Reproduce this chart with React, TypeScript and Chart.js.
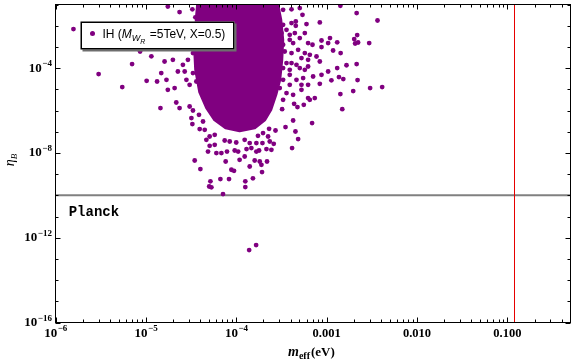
import React, { useEffect, useRef } from "react";
import { Chart, registerables } from "chart.js";
Chart.register(...registerables);

const PURPLE = "rgb(128,0,128)";

// axis ranges
const xMin = 1e-6;
const xMax = 0.5;
const yMin = 1e-16;
const yMax = 0.1;

// reference lines
const planckEta = 1e-10;
const meffBound = 0.12;
const planckLabelAt = [1.4e-6, 1.1e-11];

// tick labels
const xTickValues = [1e-6, 1e-5, 1e-4, 1e-3, 1e-2, 1e-1];
const xTickLabels = ["10^-6", "10^-5", "10^-4", "0.001", "0.010", "0.100"];
const yTickValues = [1e-16, 1e-12, 1e-8, 1e-4];
const yTickLabels = ["10^-16", "10^-12", "10^-8", "10^-4"];
const minorMultipliers = [2, 3, 4, 5, 6, 7, 8, 9];

// dense core of the scatter (outline of the solid region)
const coreMeff = [3.74e-5, 2.88e-4, 3.11e-4, 3.27e-4, 3.19e-4, 3.03e-4, 2.74e-4, 2.41e-4, 2.07e-4, 1.6e-4, 1.09e-4, 7.64e-5, 5.78e-5, 4.71e-5, 3.94e-5, 3.56e-5, 3.47e-5, 3.56e-5, 3.65e-5];
const coreEta = [0.1, 0.1, 1.9e-2, 2.16e-3, 2.47e-4, 2.8e-5, 5.5e-6, 1.08e-6, 3.64e-7, 1.53e-7, 1.1e-7, 1.53e-7, 3.64e-7, 1.34e-6, 7.62e-6, 8.3e-5, 7.3e-4, 6.4e-3, 3.27e-2];

// individual points outside the core
const leftWing = [
  [1.58e-6, 6.91e-3], [3.0e-6, 5.21e-5], [5.48e-6, 1.27e-5], [7.04e-6, 1.54e-4], [8.63e-6, 6.07e-4],
  [1.15e-5, 3.6e-4], [1.02e-5, 2.52e-5], [1.45e-5, 1.3e-6], [1.75e-5, 8.05e-2], [2.36e-5, 4.38e-2],
  [3.27e-5, 5.94e-2], [3.53e-5, 2.49e-2], [1.61e-5, 2.05e-4], [1.99e-5, 2.46e-4], [2.57e-5, 1.43e-4],
  [2.92e-5, 2.46e-4], [3.32e-5, 5.1e-4], [3.77e-5, 2.96e-4], [1.33e-5, 2.33e-5], [1.48e-5, 5.81e-5],
  [1.69e-5, 2.81e-5], [2.08e-5, 1.14e-5], [2.26e-5, 6.91e-5], [2.69e-5, 6.91e-5], [2.81e-5, 2.81e-5],
  [3.05e-5, 1.63e-5], [3.32e-5, 5.81e-5], [3.62e-5, 2.33e-5], [2.36e-5, 1.3e-6], [2.17e-5, 2.38e-6],
  [3.05e-5, 1.54e-6], [3.32e-5, 1.0e-6], [3.19e-5, 4.38e-7], [3.87e-5, 6.27e-7], [3.27e-5, 2.28e-7],
  [4.29e-5, 3.03e-7], [3.94e-5, 1.33e-7], [4.48e-5, 1.23e-7], [1.75e-5, 9.47e-6],
];
const lowerTail = [
  [4.67e-5, 4.15e-8], [5.08e-5, 2.16e-8], [4.87e-5, 1.16e-8], [5.78e-5, 2.41e-8], [6.03e-5, 9.79e-9],
  [6.85e-5, 9.79e-9], [7.9e-5, 1.16e-8], [7.64e-5, 3.93e-9], [3.47e-5, 4.38e-9], [4.01e-5, 1.72e-9],
  [5.18e-5, 4.57e-10], [5.02e-5, 2.6e-10], [5.31e-5, 2.38e-10], [6.68e-5, 5.81e-10], [8.32e-5, 5.81e-10],
  [8.84e-5, 1.6e-9], [9.45e-5, 1.43e-9], [7.14e-5, 1.14e-10], [1.26e-4, 4.57e-10], [1.26e-4, 2.44e-10],
  [1.53e-4, 6.34e-10], [1.41e-4, 2.28e-9], [1.09e-4, 4.73e-9], [1.24e-4, 6.76e-9], [9.62e-5, 1.3e-8],
  [1.05e-4, 1.16e-8], [1.3e-4, 1.51e-8], [1.47e-4, 1.68e-8], [1.67e-4, 1.16e-8], [1.82e-4, 3.93e-9],
  [8.47e-5, 3.45e-8], [1.0e-4, 3.1e-8], [1.24e-4, 4.15e-8], [1.41e-4, 2.9e-8], [1.67e-4, 2.9e-8],
  [1.74e-4, 6.41e-8], [5.08e-5, 5.94e-8], [5.78e-5, 7.14e-8], [7.45e-5, 3.85e-8], [1.93e-4, 1.24e-9],
  [1.39e-4, 2.6e-13], [1.66e-4, 4.48e-13],
];
const rightLow = [
  [4.37e-4, 2.07e-6], [4.76e-4, 1.45e-6], [5.59e-4, 1.86e-6], [6.52e-4, 3.2e-6], [3.22e-4, 1.16e-6],
  [1.49e-3, 1.16e-6], [4.26e-4, 3.37e-7], [6.91e-4, 2.55e-7], [3.51e-4, 1.65e-7], [4.52e-4, 1.02e-7],
  [4.84e-4, 4.48e-8], [4.15e-4, 1.68e-8], [2.72e-4, 1.14e-7], [2.6e-4, 2.69e-8], [2.45e-4, 1.4e-8],
  [2.16e-4, 1.51e-8], [1.79e-4, 1.3e-8], [1.6e-4, 4.38e-9], [2.19e-4, 3.93e-9], [1.9e-4, 2.75e-9],
  [2.31e-4, 1.37e-7], [1.98e-4, 8.59e-8], [2.25e-4, 5.94e-8], [1.95e-4, 2.9e-8], [2.35e-4, 3.45e-8],
];
const rightWing = [
  [3.3e-4, 5.62e-2], [4.09e-4, 5.94e-2], [5.05e-4, 6.76e-2], [5.41e-4, 3.27e-2], [1.42e-3, 8.69e-2],
  [3.3e-4, 1.1e-2], [3.6e-4, 6.41e-3], [4.09e-4, 1.33e-2], [4.56e-4, 1.58e-2], [4.56e-4, 9.89e-3],
  [5.99e-4, 1.19e-2], [8.41e-4, 1.42e-2], [3.17e-4, 4.48e-3], [3.91e-4, 3.73e-3], [4.45e-4, 4.48e-3],
  [5.05e-4, 2.6e-3], [5.74e-4, 4.48e-3], [6.24e-4, 1.51e-3], [6.98e-4, 1.26e-3], [8.78e-4, 2.0e-3],
  [1.09e-3, 2.6e-3], [1.31e-3, 1.65e-3], [8.78e-4, 9.79e-4], [1.04e-3, 1.51e-3], [1.18e-3, 6.76e-4],
  [1.43e-3, 5.1e-4], [3.3e-4, 1.26e-3], [3.91e-4, 2.16e-3], [4.26e-4, 1.51e-3], [3.44e-4, 6.07e-4],
  [4.09e-4, 5.1e-4], [4.84e-4, 7.29e-4], [5.74e-4, 5.1e-4], [6.52e-4, 4.24e-4], [5.27e-4, 2.96e-4],
  [6.24e-4, 2.46e-4], [7.73e-4, 3.52e-4], [8.41e-4, 2.05e-4], [3.03e-4, 2.96e-4], [3.6e-4, 1.72e-4],
  [4.09e-4, 1.72e-4], [4.64e-4, 1.43e-4], [5.05e-4, 1.0e-4], [5.74e-4, 8.31e-5], [6.24e-4, 1.19e-4],
  [3.91e-4, 8.31e-5], [3.3e-4, 1.0e-4], [1.66e-3, 1.36e-4], [1.31e-3, 1.0e-4], [1.04e-3, 6.91e-5],
  [8.78e-4, 4.83e-5], [7.09e-4, 4.02e-5], [1.13e-3, 2.66e-5], [1.37e-3, 3.76e-5], [1.53e-3, 3.03e-5],
  [2.9e-4, 5.81e-5], [3.3e-4, 2.81e-5], [3.91e-4, 4.83e-5], [4.64e-4, 2.81e-5], [5.5e-4, 3.38e-5],
  [5.27e-4, 1.63e-5], [6.24e-4, 1.63e-5], [8.41e-4, 1.82e-5], [3.91e-4, 1.63e-5], [3.03e-4, 1.14e-5],
  [3.6e-4, 6.62e-6], [4.26e-4, 5.5e-6], [5.27e-4, 9.47e-6], [6.24e-4, 3.85e-6], [7.4e-4, 3.85e-6],
  [1.42e-3, 5.94e-6], [3.3e-4, 3.2e-6],
];
const farRight = [
  [2.15e-3, 3.93e-2], [3.66e-3, 1.76e-2], [2.18e-3, 3.61e-3], [2.02e-3, 2.33e-3], [2.23e-3, 1.61e-3],
  [2.07e-3, 1.45e-3], [2.96e-3, 1.51e-3], [2.15e-3, 1.54e-4], [2.2e-3, 2.72e-5], [3.03e-3, 1.14e-5],
  [4.12e-3, 1.27e-5], [1.97e-3, 8.22e-6],
];

const SERIF = "'Liberation Serif', 'DejaVu Serif', serif";
const SANS = "'Liberation Sans', Arial, sans-serif";

function drawTickLabel(ctx: CanvasRenderingContext2D, label: string, x: number, baseline: number, align: "center" | "right") {
  ctx.textAlign = "left";
  ctx.textBaseline = "alphabetic";
  ctx.fillStyle = "#000";
  const parts = label.split("^");
  if (parts.length === 1) {
    ctx.font = `bold 12.5px ${SERIF}`;
    const w = ctx.measureText(label).width;
    ctx.fillText(label, align === "right" ? x - w : x - w / 2, baseline);
    return;
  }
  const base = parts[0];
  const exp = parts[1].replace("-", "\u2212");
  ctx.font = `bold 13px ${SERIF}`;
  const w1 = ctx.measureText(base).width;
  ctx.font = `bold 9px ${SERIF}`;
  const w2 = ctx.measureText(exp).width;
  const start = align === "right" ? x - w1 - w2 : x - (w1 + w2) / 2;
  ctx.font = `bold 13px ${SERIF}`;
  ctx.fillText(base, start, baseline);
  ctx.font = `bold 9px ${SERIF}`;
  ctx.fillText(exp, start + w1 + 0.5, baseline - 5.5);
}

const decorPlugin = {
  id: "decor",
  beforeDatasetsDraw(chart: any) {
    const { ctx, chartArea: a, scales } = chart;
    const xs = scales.x;
    const ys = scales.y;
    ctx.save();
    ctx.beginPath();
    ctx.rect(a.left, a.top, a.right - a.left, a.bottom - a.top);
    ctx.clip();
    // dense core
    ctx.beginPath();
    coreMeff.forEach((m, i) => {
      const px = xs.getPixelForValue(m);
      const py = ys.getPixelForValue(coreEta[i]);
      if (i === 0) ctx.moveTo(px, py);
      else ctx.lineTo(px, py);
    });
    ctx.closePath();
    ctx.fillStyle = PURPLE;
    ctx.fill();
    ctx.lineJoin = "round";
    ctx.lineWidth = 3;
    ctx.strokeStyle = PURPLE;
    ctx.stroke();
    // Planck line
    const py = ys.getPixelForValue(planckEta);
    ctx.strokeStyle = "rgb(128,128,128)";
    ctx.lineWidth = 2;
    ctx.beginPath();
    ctx.moveTo(a.left, py);
    ctx.lineTo(a.right, py);
    ctx.stroke();
    // bound line
    const px = Math.round(xs.getPixelForValue(meffBound)) + 0.5;
    ctx.strokeStyle = "rgb(230,0,0)";
    ctx.lineWidth = 1;
    ctx.beginPath();
    ctx.moveTo(px, a.top);
    ctx.lineTo(px, a.bottom);
    ctx.stroke();
    ctx.restore();
  },
  afterDraw(chart: any) {
    const { ctx, chartArea: a, scales } = chart;
    const xs = scales.x;
    const ys = scales.y;
    ctx.save();
    ctx.strokeStyle = "#000";
    ctx.lineWidth = 1;
    ctx.strokeRect(a.left, a.top, a.right - a.left, a.bottom - a.top);
    const seg = (x1: number, y1: number, x2: number, y2: number) => {
      ctx.beginPath();
      ctx.moveTo(x1, y1);
      ctx.lineTo(x2, y2);
      ctx.stroke();
    };
    // x ticks (bottom and top)
    xTickValues.forEach((d) => {
      const px = Math.round(xs.getPixelForValue(d)) + 0.5;
      seg(px, a.bottom, px, a.bottom - 5);
      seg(px, a.top, px, a.top + 5);
      minorMultipliers.forEach((k) => {
        const v = k * d;
        if (v >= xMax) return;
        const mx = Math.round(xs.getPixelForValue(v)) + 0.5;
        seg(mx, a.bottom, mx, a.bottom - 3);
        seg(mx, a.top, mx, a.top + 3);
      });
    });
    // y ticks (every decade, longer where labelled)
    for (let e = -16; e <= -1; e++) {
      const v = Math.pow(10, e);
      const py = Math.round(ys.getPixelForValue(v)) + 0.5;
      const len = yTickValues.some((t) => Math.abs(Math.log10(t) - e) < 1e-6) ? 5 : 3;
      seg(a.left, py, a.left + len, py);
      seg(a.right, py, a.right - len, py);
    }
    // tick labels
    xTickValues.forEach((v, i) => {
      drawTickLabel(ctx, xTickLabels[i], xs.getPixelForValue(v), a.bottom + 14, "center");
    });
    yTickValues.forEach((v, i) => {
      drawTickLabel(ctx, yTickLabels[i], a.left - 4, ys.getPixelForValue(v) + 3.5, "right");
    });
    // x title: m_eff (eV)
    ctx.fillStyle = "#000";
    ctx.textAlign = "left";
    ctx.textBaseline = "alphabetic";
    let tx = 288;
    const tb = 356;
    ctx.font = `italic bold 14px ${SERIF}`;
    ctx.fillText("m", tx, tb);
    tx += ctx.measureText("m").width;
    ctx.font = `bold 10px ${SERIF}`;
    ctx.fillText("eff", tx, tb + 3);
    tx += ctx.measureText("eff").width + 1;
    ctx.font = `bold 13px ${SERIF}`;
    ctx.fillText("(eV)", tx, tb);
    // y title: eta_B
    ctx.save();
    ctx.translate(14, 160);
    ctx.rotate(-Math.PI / 2);
    ctx.font = `italic 14px ${SERIF}`;
    const we = ctx.measureText("\u03b7").width;
    ctx.font = `italic 9px ${SERIF}`;
    const wb = ctx.measureText("B").width;
    const sx = -(we + wb) / 2;
    ctx.font = `italic 14px ${SERIF}`;
    ctx.fillText("\u03b7", sx, 0);
    ctx.font = `italic 9px ${SERIF}`;
    ctx.fillText("B", sx + we, 3);
    ctx.restore();
    // Planck text
    ctx.font = `bold 14px 'Liberation Mono', 'DejaVu Sans Mono', monospace`;
    ctx.fillStyle = "#000";
    ctx.fillText("Planck", xs.getPixelForValue(planckLabelAt[0]), ys.getPixelForValue(planckLabelAt[1]));
    // legend box
    const lx = a.left + 25;
    const ly = a.top + 17;
    const lw = 154;
    const lh = 28;
    ctx.fillStyle = "rgb(110,110,110)";
    ctx.fillRect(lx + 2, ly + 2, lw, lh);
    ctx.fillStyle = "#fff";
    ctx.fillRect(lx, ly, lw, lh);
    ctx.strokeStyle = "#000";
    ctx.lineWidth = 1.5;
    ctx.strokeRect(lx + 0.75, ly + 0.75, lw - 1.5, lh - 1.5);
    ctx.fillStyle = PURPLE;
    ctx.beginPath();
    ctx.arc(lx + 12, ly + 12, 2.5, 0, Math.PI * 2);
    ctx.fill();
    ctx.fillStyle = "#000";
    let gx = lx + 22;
    const gb = ly + 16;
    ctx.font = `12px ${SANS}`;
    ctx.fillText("IH (", gx, gb);
    gx += ctx.measureText("IH (").width;
    ctx.font = `italic 12px ${SANS}`;
    ctx.fillText("M", gx, gb);
    gx += ctx.measureText("M").width;
    ctx.font = `italic 9px ${SANS}`;
    ctx.fillText("W", gx, gb + 3);
    gx += ctx.measureText("W").width;
    ctx.font = `italic 7px ${SANS}`;
    ctx.fillText("R", gx, gb + 6);
    gx += ctx.measureText("R").width + 1;
    ctx.font = `12px ${SANS}`;
    ctx.fillText(" =5TeV, X=0.5)", gx, gb);
    ctx.restore();
  },
};

export default function App() {
  const ref = useRef<HTMLCanvasElement | null>(null);
  useEffect(() => {
    if (!ref.current) return;
    const toXY = (arr: number[][]) => arr.map(([x, y]) => ({ x, y }));
    const points = [...toXY(leftWing), ...toXY(lowerTail), ...toXY(rightLow), ...toXY(rightWing), ...toXY(farRight)];
    const chart = new Chart(ref.current, {
      type: "scatter",
      data: {
        datasets: [
          {
            label: "IH (M_WR =5TeV, X=0.5)",
            data: points,
            pointRadius: 2.4,
            pointBorderWidth: 0,
            pointBackgroundColor: PURPLE,
            borderColor: PURPLE,
          },
        ],
      },
      options: {
        responsive: false,
        animation: false,
        events: [],
        layout: { padding: { left: 55.5, right: 5.5, top: 4.5, bottom: 40.5 } },
        plugins: { legend: { display: false }, tooltip: { enabled: false } },
        scales: {
          x: { type: "logarithmic", min: xMin, max: xMax, display: false },
          y: { type: "logarithmic", min: yMin, max: yMax, display: false },
        },
      },
      plugins: [decorPlugin],
    });
    return () => chart.destroy();
  }, []);
  return (
    <div style={{ position: "fixed", left: 0, top: 0, width: 576, height: 363, background: "#fff" }}>
      <canvas ref={ref} width={576} height={363} style={{ width: 576, height: 363, display: "block" }} />
    </div>
  );
}
